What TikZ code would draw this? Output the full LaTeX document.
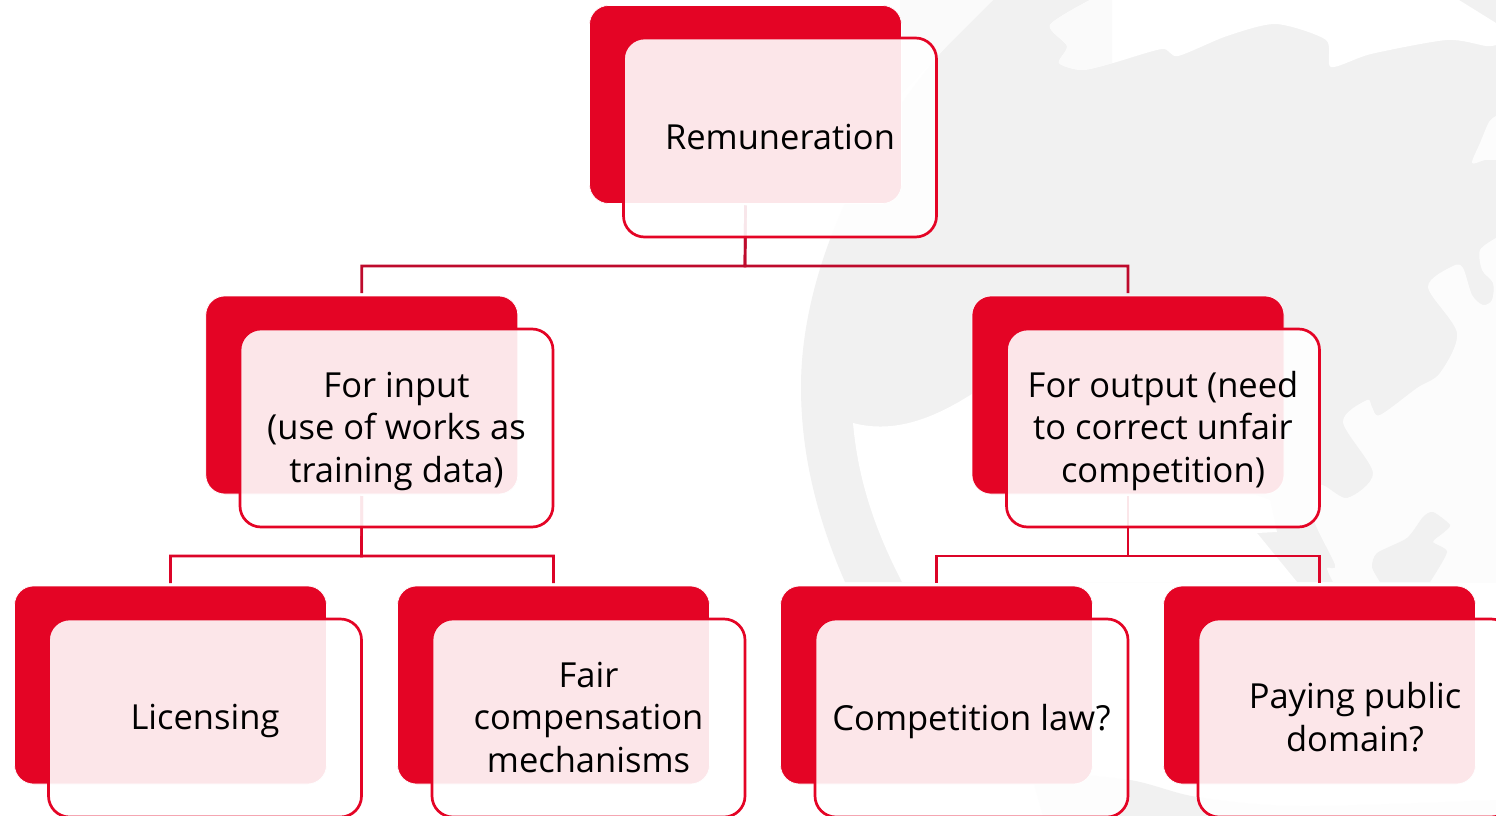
\documentclass[tikz,border=0pt]{standalone}
\usepackage{fontspec}
\setmainfont{Open Sans}
\definecolor{wm}{HTML}{F1F1F1}
\definecolor{wmlight}{HTML}{FAFAFA}
\definecolor{wmpale}{HTML}{FCFCFC}
\definecolor{brand}{HTML}{E40425}
\definecolor{connupper}{HTML}{BE0A2C}
\definecolor{connlower}{HTML}{DC0428}
\tikzset{
  backbox/.style={rectangle,rounded corners=19pt,fill=brand,draw=white,line width=.7pt,inner sep=0pt,outer sep=0pt,minimum width=312pt,minimum height=198pt},
  frontbox/.style={rectangle,rounded corners=21pt,fill=white,fill opacity=.9,draw=brand,draw opacity=1,line width=2.7pt,inner sep=0pt,outer sep=0pt},
  boxlabel/.style={inner sep=0pt,outer sep=0pt,align=center,text=black,font=\fontsize{34.5}{42.5}\selectfont},
  conn/.style={line width=2.7pt,shorten <=2pt,shorten >=3pt},
  connup/.style={conn,draw=connupper},
  connlow/.style={conn,draw=connlower},
}
\begin{document}
\begin{tikzpicture}[x=1pt,y=-1pt]
\clip (0,0) rectangle (1496,816);
\fill[white] (0,0) rectangle (1496,816);
% watermark globe
\fill[wm] (993,0) .. controls (900,80) and (801,240) .. (801,387) .. controls (801,460) and (820,525) .. (845,582) -- (1496,582) -- (1496,0) -- cycle;
\fill[wmlight] (900,0) -- (993,0) -- (936,57) -- (900,95) -- cycle;
% northern sea
\fill[white] plot[smooth,tension=.45] coordinates {(1090,0) (1050,25) (1067,46) (1059,63) (1082,70) (1113,63) (1162,49) (1178,56) (1227,36) (1276,24) (1326,40) (1331,67) (1371,54) (1447,40) (1486,46) (1496,45)} -- (1496,23) -- (1459,0) -- cycle;
\begin{scope}
  \clip (0,0) rectangle (1112,100);
  \fill[wmlight] plot[smooth,tension=.45] coordinates {(1090,0) (1050,25) (1067,46) (1059,63) (1082,70) (1113,63) (1162,49)} -- (1162,0) -- cycle;
\end{scope}
\fill[wmpale] plot[smooth,tension=.5] coordinates {(1496,116) (1489,122) (1480,143) (1472,163) (1485,160) (1496,160)} -- cycle;
% southern ocean, right
\fill[wmpale] plot[smooth,tension=.5] coordinates {(1496,238) (1480,250) (1482,270) (1493,283) (1492,300) (1483,305) (1472,295) (1463,268) (1453,266) (1428,287) (1457,333) (1440,373) (1417,388) (1380,415) (1372,407) (1367,400) (1343,422) (1373,473) (1347,498) (1320,485) (1313,517) (1335,565) (1327,568) (1333,582)} -- (1496,582) -- cycle;
% southern ocean, middle
\fill[white] (902,582) .. controls (875,530) and (858,480) .. (853,423) .. controls (895,434) and (935,418) .. (975,392) -- (1100,440) -- (1270,500) -- (1277,532) -- (1257,533) -- (1297,582) -- cycle;
% island
\fill[wm] plot[smooth,tension=.4] coordinates {(1380,582) (1372,567) (1377,553) (1407,538) (1423,517) (1433,512) (1450,525) (1443,533) (1433,542) (1447,552) (1430,582)} -- cycle;
% southern band
\fill[wm] plot[smooth,tension=.5] coordinates {(1030,770) (1130,780) (1197,797) (1300,806) (1496,800)} -- (1496,816) -- (1043,816) -- cycle;
% connectors' anchors
\coordinate (bus0) at (745,266);
\coordinate (busL) at (361.5,556);
\coordinate (busR) at (1128,556);
% red back boxes and connectors drawn beneath the translucent fronts
\node[backbox] (r0) at (745.5,104.5) {};
\node[backbox] (r1) at (361.8,395) {};
\node[backbox] (r2) at (1128,395) {};
\node[backbox] (r3) at (170.5,685) {};
\node[backbox] (r4) at (553.5,685) {};
\node[backbox] (r5) at (936.5,685) {};
\node[backbox] (r6) at (1319.5,685) {};
\draw[connup] (r0.south) -- (bus0) -| (r1.north);
\draw[connup] (r0.south) -- (bus0) -| (r2.north);
\draw[connlow] (r1.south) -- (busL) -| (r3.north);
\draw[connlow] (r1.south) -- (busL) -| (r4.north);
\draw[connlow] (r2.south) -- (busR) -| (r5.north);
\draw[connlow] (r2.south) -- (busR) -| (r6.north);
\node[frontbox,minimum width=313pt,minimum height=199pt] (w0) at (780,137.5) {};
\node[frontbox,minimum width=313pt,minimum height=198pt] (w1) at (396.5,428) {};
\node[frontbox,minimum width=313pt,minimum height=198pt] (w2) at (1163,428) {};
\node[frontbox,minimum width=313pt,minimum height=198pt] (w3) at (205,718) {};
\node[frontbox,minimum width=313pt,minimum height=198pt] (w4) at (588.5,718) {};
\node[frontbox,minimum width=313pt,minimum height=198pt] (w5) at (971.5,718) {};
\node[frontbox,minimum width=314pt,minimum height=198pt] (w6) at (1355,718) {};
\node[boxlabel] (t0) at (780,137.5) {Remuneration};
\node[boxlabel] (t1) at (396.5,431) {For input\\(use of works as\\training data)};
\node[boxlabel] (t2) at (1163,431) {For output (need\\to correct unfair\\competition)};
\node[boxlabel] (t3) at (205,721) {Licensing};
\node[boxlabel] (t4) at (588.5,717) {Fair\\compensation\\mechanisms};
\node[boxlabel] (t5) at (971.5,721.5) {Competition law?};
\node[boxlabel] (t6) at (1355,717) {Paying public\\domain?};
\end{tikzpicture}
\end{document}
